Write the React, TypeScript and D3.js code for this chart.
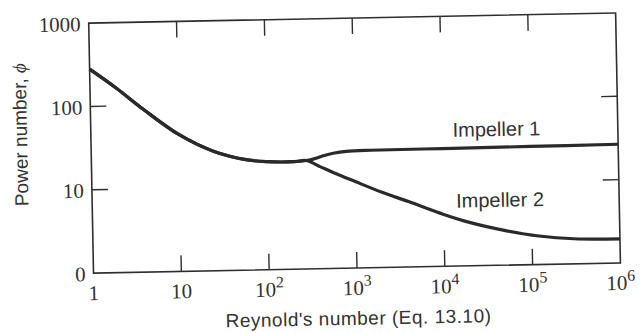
import React from 'react';
import * as d3 from 'd3';

// Power number vs Reynold's number, two impellers (log-log)
const reShared = [1, 2, 4, 10, 25, 60, 100, 200, 280];
const phiShared = [280, 163, 90, 44, 27, 21, 19.8, 19.5, 20];

const reImp1 = [350, 450, 570, 800, 1500, 10000, 100000, 1000000];
const phiImp1 = [21, 22.8, 24.1, 25.2, 25.7, 25.9, 26.2, 26.6];

const reImp2 = [400, 570, 1000, 2000, 4000, 10000, 20000, 50000, 120000, 300000, 1000000];
const phiImp2 = [16.8, 14.1, 10.9, 8.0, 6.1, 4.2, 3.3, 2.6, 2.2, 2.0, 1.95];

const xTickValues = [1, 10, 100, 1e3, 1e4, 1e5, 1e6];
const xTickBase = ['1', '10', '10', '10', '10', '10', '10'];
const xTickSup = ['', '', '2', '3', '4', '5', '6'];

const yTickValues = [1, 10, 100, 1000];
const yTickLabels = ['0', '10', '100', '1000'];

const seriesNames = ['Impeller 1', 'Impeller 2'];
const labelRe = [41500, 44000];
const labelPhi = [35.6, 5.03];

const width = 641;
const height = 333;
const margin = { top: 18.7, right: 22.5, bottom: 64.3, left: 91.5 };

const ink = '#2e2e2e';

export default function App() {
  const x = d3.scaleLog().domain([1, 1e6]).range([margin.left, width - margin.right]);
  const y = d3.scaleLog().domain([1, 1000]).range([height - margin.bottom, margin.top]);

  const line = d3.line<[number, number]>()
    .x(d => x(d[0]))
    .y(d => y(d[1]))
    .curve(d3.curveCatmullRom.alpha(0.5));

  const shared = reShared.map((r, i) => [r, phiShared[i]] as [number, number]);
  const imp1 = shared.concat(reImp1.map((r, i) => [r, phiImp1[i]] as [number, number]));
  const imp2 = shared.concat(reImp2.map((r, i) => [r, phiImp2[i]] as [number, number]));

  const [x0, x1] = x.range();
  const [y0, y1] = y.range();
  const tickLen = 16;
  const innerX = xTickValues.slice(1, -1);
  const innerY = yTickValues.slice(1, -1);

  return (
    <svg width={width} height={height} style={{ position: 'absolute', left: 0, top: 0, background: '#fff' }}>
      <g transform="rotate(-1.1, 320, 166)">
        {/* frame */}
        <rect x={x0} y={y1} width={x1 - x0} height={y0 - y1} fill="none" stroke={ink} strokeWidth={1.6} />

        {/* inward ticks */}
        {innerX.map(v => (
          <g key={'xt' + v} stroke={ink} strokeWidth={1.4}>
            <line x1={x(v)} x2={x(v)} y1={y0} y2={y0 - tickLen} />
            <line x1={x(v)} x2={x(v)} y1={y1} y2={y1 + tickLen} />
          </g>
        ))}
        {innerY.map(v => (
          <g key={'yt' + v} stroke={ink} strokeWidth={1.4}>
            <line x1={x0} x2={x0 + tickLen} y1={y(v)} y2={y(v)} />
            <line x1={x1} x2={x1 - tickLen} y1={y(v)} y2={y(v)} />
          </g>
        ))}

        {/* tick labels */}
        <g fontFamily="'Liberation Serif', serif" fontSize={21} fill="#333">
          {xTickValues.map((v, i) => (
            <text key={'xl' + v} x={x(v)} y={y0 + 27} textAnchor="middle">
              {xTickBase[i]}
              {xTickSup[i] && <tspan fontSize={16} dy={-9}>{xTickSup[i]}</tspan>}
            </text>
          ))}
          {yTickValues.map((v, i) => (
            <text key={'yl' + v} x={x0 - 8} y={y(v)} dy="0.38em" textAnchor="end">
              {yTickLabels[i]}
            </text>
          ))}
        </g>

        {/* curves */}
        <path d={line(imp1) || ''} fill="none" stroke="#2a2a2a" strokeWidth={3.2} strokeLinejoin="round" />
        <path d={line(imp2) || ''} fill="none" stroke="#2a2a2a" strokeWidth={3.2} strokeLinejoin="round" />

        {/* series labels */}
        <g fontFamily="'Liberation Sans', Arial, sans-serif" fontSize={20} fill="#333">
          {seriesNames.map((s, i) => (
            <text key={s} x={x(labelRe[i])} y={y(labelPhi[i])} textAnchor="middle">{s}</text>
          ))}
        </g>

        {/* axis titles */}
        <text x={355.6} y={325.5} textAnchor="middle" fontFamily="'Liberation Sans', Arial, sans-serif"
          fontSize={19} letterSpacing={0.5} fill="#333">
          Reynold's number (Eq. 13.10)
        </text>
        <text transform="translate(27.7, 129) rotate(-90)" textAnchor="middle"
          fontFamily="'Liberation Sans', Arial, sans-serif" fontSize={19} fill="#333">
          Power number, <tspan fontFamily="'Liberation Serif', serif" fontStyle="italic">ϕ</tspan>
        </text>
      </g>
    </svg>
  );
}
